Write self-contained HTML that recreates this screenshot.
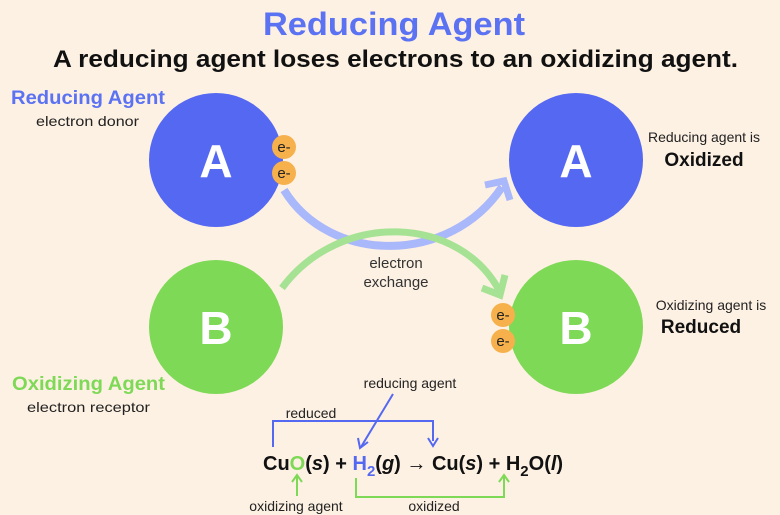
<!DOCTYPE html>
<html><head><meta charset="utf-8"><style>
html,body{margin:0;padding:0;background:#fdf1e3;}
svg{display:block;font-family:"Liberation Sans",sans-serif;}
</style></head><body>
<svg width="780" height="515" viewBox="0 0 780 515" xmlns="http://www.w3.org/2000/svg">
<rect width="780" height="515" fill="#fdf1e3"/>
<text x="263" y="35" font-size="32" font-weight="bold" fill="#5b72f2" textLength="262" lengthAdjust="spacingAndGlyphs">Reducing Agent</text>
<text x="53" y="67" font-size="24" font-weight="bold" fill="#111" textLength="685" lengthAdjust="spacingAndGlyphs">A reducing agent loses electrons to an oxidizing agent.</text>

<text x="11" y="104" font-size="19" font-weight="bold" fill="#5b72f2" textLength="154" lengthAdjust="spacingAndGlyphs">Reducing Agent</text>
<text x="36" y="126" font-size="14" fill="#222" textLength="103" lengthAdjust="spacingAndGlyphs">electron donor</text>
<text x="12" y="390" font-size="19" font-weight="bold" fill="#7ed957" textLength="153" lengthAdjust="spacingAndGlyphs">Oxidizing Agent</text>
<text x="27" y="412" font-size="14" fill="#222" textLength="123" lengthAdjust="spacingAndGlyphs">electron receptor</text>

<circle cx="216" cy="160" r="67" fill="#5468f2"/>
<circle cx="576" cy="160" r="67" fill="#5468f2"/>
<circle cx="216" cy="327" r="67" fill="#7ed957"/>
<circle cx="576" cy="327" r="67" fill="#7ed957"/>
<text x="216" y="177" font-size="46" font-weight="bold" fill="#fff" text-anchor="middle">A</text>
<text x="576" y="177" font-size="46" font-weight="bold" fill="#fff" text-anchor="middle">A</text>
<text x="216" y="344" font-size="46" font-weight="bold" fill="#fff" text-anchor="middle">B</text>
<text x="576" y="344" font-size="46" font-weight="bold" fill="#fff" text-anchor="middle">B</text>

<g font-size="15" fill="#222" text-anchor="middle">
<circle cx="284" cy="147" r="12" fill="#f7b14c"/><text x="284" y="152">e-</text>
<circle cx="284" cy="173" r="12" fill="#f7b14c"/><text x="284" y="178">e-</text>
<circle cx="503" cy="315" r="12" fill="#f7b14c"/><text x="503" y="320">e-</text>
<circle cx="503" cy="341" r="12" fill="#f7b14c"/><text x="503" y="346">e-</text>
</g>

<path d="M284 190 C 330 265, 450 265, 502 187" stroke="#a9b7fb" stroke-width="8" fill="none"/>
<path d="M485 185 L504 181 L510 200" stroke="#a9b7fb" stroke-width="7" fill="none"/>
<path d="M282 288 C 340 210, 460 215, 500 292" stroke="#a6e294" stroke-width="7" fill="none"/>
<path d="M482 288 L500 295 L505 275" stroke="#a6e294" stroke-width="7" fill="none"/>
<text x="396" y="268" font-size="15" fill="#333" text-anchor="middle">electron</text>
<text x="396" y="287" font-size="15" fill="#333" text-anchor="middle">exchange</text>

<text x="704" y="142" font-size="14" fill="#222" text-anchor="middle">Reducing agent is</text>
<text x="704" y="166" font-size="19" font-weight="bold" fill="#111" text-anchor="middle">Oxidized</text>
<text x="711" y="310" font-size="14" fill="#222" text-anchor="middle">Oxidizing agent is</text>
<text x="701" y="333" font-size="19" font-weight="bold" fill="#111" text-anchor="middle">Reduced</text>

<text x="410" y="388" font-size="14" fill="#222" text-anchor="middle">reducing agent</text>
<text x="311" y="418" font-size="14" fill="#222" text-anchor="middle">reduced</text>
<path d="M273 447 V421 H433 V441" stroke="#5468f2" stroke-width="2" fill="none"/>
<path d="M428 438 L433 446 L438 438" stroke="#5468f2" stroke-width="2" fill="none"/>
<path d="M393 394 L361 447" stroke="#5468f2" stroke-width="2" fill="none"/>
<path d="M358 438 L360 448 L368 442" stroke="#5468f2" stroke-width="2" fill="none"/>
<path d="M297 496 V477" stroke="#7ed957" stroke-width="2" fill="none"/>
<path d="M292 482 L297 475 L302 482" stroke="#7ed957" stroke-width="2" fill="none"/>
<path d="M356 478 V497 H504 V476" stroke="#7ed957" stroke-width="2" fill="none"/>
<path d="M499 482 L504 475 L509 482" stroke="#7ed957" stroke-width="2" fill="none"/>
<text x="296" y="511" font-size="14" fill="#222" text-anchor="middle">oxidizing agent</text>
<text x="434" y="511" font-size="14" fill="#222" text-anchor="middle">oxidized</text>

<text x="263" y="470" font-size="20" font-weight="bold" fill="#111">Cu<tspan fill="#7ed957">O</tspan>(<tspan font-style="italic">s</tspan>) + <tspan fill="#5468f2">H<tspan font-size="15" dy="6">2</tspan></tspan><tspan dy="-6">(<tspan font-style="italic">g</tspan>) → Cu(<tspan font-style="italic">s</tspan>) + H</tspan><tspan font-size="15" dy="6">2</tspan><tspan dy="-6">O(<tspan font-style="italic">l</tspan>)</tspan></text>
</svg>
</body></html>
